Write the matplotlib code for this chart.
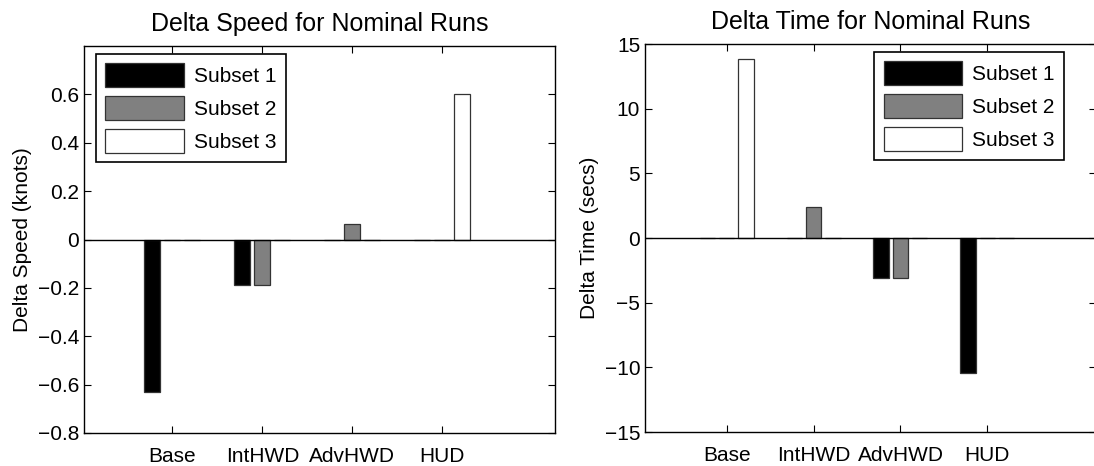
import numpy as np
import matplotlib
matplotlib.use("Agg")
import matplotlib.pyplot as plt

plt.rcParams['font.family'] = ['Liberation Sans', 'DejaVu Sans']

groups = ["Base", "IntHWD", "AdvHWD", "HUD"]
series = ["Subset 1", "Subset 2", "Subset 3"]
colors = ["black", "#808080", "white"]

# delta speed (knots), one list per subset
speed_s1 = [-0.63, -0.19, 0.0, 0.0]
speed_s2 = [0.0, -0.19, 0.065, 0.0]
speed_s3 = [0.0, 0.0, 0.0, 0.60]

# delta time (secs)
time_s1 = [0.0, 0.0, -3.1, -10.4]
time_s2 = [0.0, 2.42, -3.1, 0.0]
time_s3 = [13.85, 0.0, 0.0, 0.0]

W, H = 1094, 466
fig = plt.figure(figsize=(W / 100, H / 100), dpi=100)


def px_axes(x0, y0, x1, y1):
    return fig.add_axes([x0 / W, 1 - y1 / H, (x1 - x0) / W, (y1 - y0) / H])


def grouped(ax, box, data, title, ylabel, ylim, yticks, xlim, leg_loc, leg_xy):
    x = np.arange(1, len(groups) + 1)
    step = 0.222
    width = 0.8 * step
    for i, vals in enumerate(data):
        ax.bar(x + (i - 1) * step, vals, width, color=colors[i],
               edgecolor="#333333", linewidth=0.9, label=series[i], zorder=2)
    ax.axhline(0, color="black", linewidth=1.0, zorder=3)
    ax.set_xlim(*xlim)
    ax.set_ylim(*ylim)
    ax.set_yticks(yticks)
    ax.set_yticklabels([("%g" % t).replace("-", "\u2212") for t in yticks])
    ax.set_xticks(x)
    ax.set_xticklabels(groups)
    ax.tick_params(direction="in", top=True, right=True, length=5,
                   labelsize=15, width=0.8)
    ax.tick_params(axis="x", pad=10)
    for s in ax.spines.values():
        s.set_linewidth(1.0)
    ax.set_title(title, fontsize=18, pad=11)
    ax.set_ylabel(ylabel, fontsize=15)
    x0, y0, x1, y1 = box
    anchor = ((leg_xy[0] - x0) / (x1 - x0), (y1 - leg_xy[1]) / (y1 - y0))
    leg = ax.legend(loc=leg_loc, bbox_to_anchor=anchor, fontsize=15,
                    handlelength=3.75, handleheight=1.4, borderaxespad=0,
                    fancybox=False, framealpha=1, edgecolor="black",
                    borderpad=0.45, labelspacing=0.42, handletextpad=0.5)
    leg.get_frame().set_linewidth(1.2)


box1 = (84, 46, 555, 433)
ax1 = px_axes(*box1)
grouped(ax1, box1, [speed_s1, speed_s2, speed_s3], "Delta Speed for Nominal Runs",
        "Delta Speed (knots)", (-0.8, 0.8),
        [-0.8, -0.6, -0.4, -0.2, 0, 0.2, 0.4, 0.6], (0.02, 5.25),
        "upper left", (96, 54))

box2 = (645, 44, 1096, 432)
ax2 = px_axes(*box2)
grouped(ax2, box2, [time_s1, time_s2, time_s3], "Delta Time for Nominal Runs",
        "Delta Time (secs)", (-15, 15),
        [-15, -10, -5, 0, 5, 10, 15], (0.06, 5.25),
        "upper right", (1064, 52))

fig.savefig("out.png", dpi=100)
